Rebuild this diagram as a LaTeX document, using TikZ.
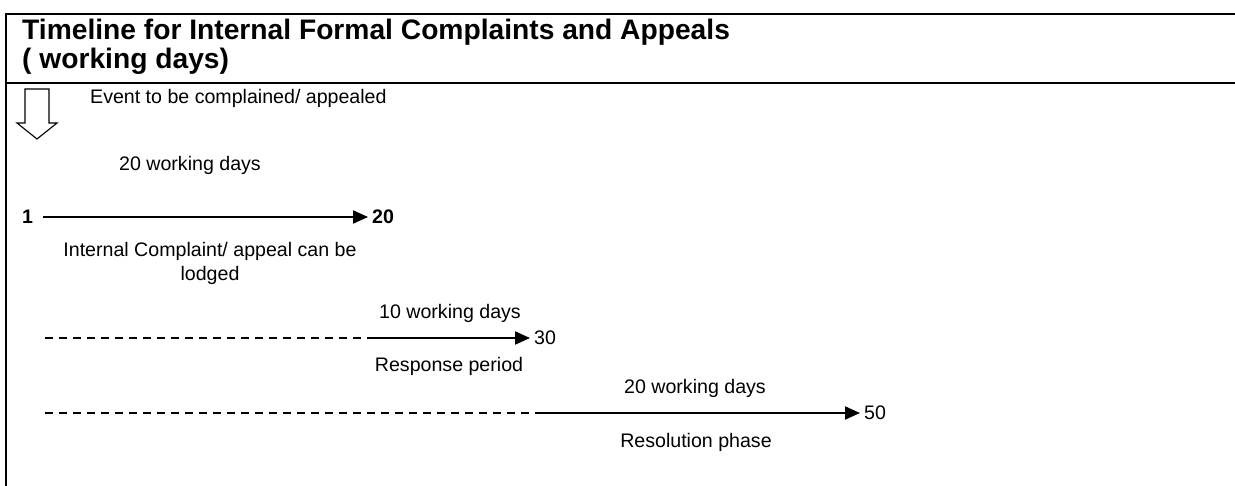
\documentclass[tikz,border=0pt]{standalone}
\usepackage{fontspec}
\setmainfont{Liberation Sans}
\usetikzlibrary{arrows.meta}
\begin{document}
\begin{tikzpicture}[x=1pt,y=-1pt,
  frame/.style={line width=2pt,black},
  ttl/.style={anchor=base west,inner sep=0pt,font=\fontsize{28.2}{30}\selectfont\bfseries},
  lbl/.style={inner sep=0pt,font=\fontsize{19.6}{24}\selectfont,align=center},
  num/.style={anchor=west,inner xsep=4pt,inner ysep=0pt,font=\fontsize{19.6}{22}\selectfont},
  bnum/.style={num,font=\fontsize{19.6}{22}\selectfont\bfseries},
  arr/.style={line width=2pt,-{Triangle[length=15pt,width=13pt]}},
  dsh/.style={line width=1.1pt,dash pattern=on 8pt off 6pt},
  blockarrow/.style={line width=1.1pt,draw=black,fill=white}]
\useasboundingbox (0,0) rectangle (1235,486);
% frame
\draw[frame] (5,14) -- (1235,14);
\draw[frame] (5,83) -- (1235,83);
\draw[frame] (6,13) -- (6,486);
% title
\node[ttl] (title1) at (22,40) {Timeline for Internal Formal Complaints and Appeals};
\node[ttl] (title2) at (22,69) {( working days)};
% event
\draw[blockarrow] (25,89) -- (49,89) -- (49,123) -- (57,123) -- (37,139) -- (17,123) -- (25,123) -- cycle;
\node[lbl,anchor=west] (event) at (90,98) {Event to be complained/ appealed};
% row 1
\node[bnum,anchor=west,inner xsep=0pt] (n1) at (22,217) {1};
\node[bnum] (n20) at (368,217) {20};
\draw[arr,shorten <=10pt] (n1) -- (n20);
\node[lbl] (l1a) at (190,165) {20 working days};
\node[lbl] (l1b) at (210,263) {Internal Complaint/ appeal can be\\lodged};
% row 2
\coordinate (d2s) at (45,338);
\coordinate (d2e) at (367,338);
\node[num] (n30) at (530,338) {30};
\draw[dsh] (d2s) -- (d2e);
\draw[arr] (d2e) -- (n30);
\node[lbl] (l2a) at (450,313) {10 working days};
\node[lbl] (l2b) at (449,366) {Response period};
% row 3
\coordinate (d3s) at (45,413);
\coordinate (d3e) at (537,413);
\node[num] (n50) at (860,413) {50};
\draw[dsh] (d3s) -- (d3e);
\draw[arr] (d3e) -- (n50);
\node[lbl] (l3a) at (695,388) {20 working days};
\node[lbl] (l3b) at (696,442) {Resolution phase};
\end{tikzpicture}
\end{document}
